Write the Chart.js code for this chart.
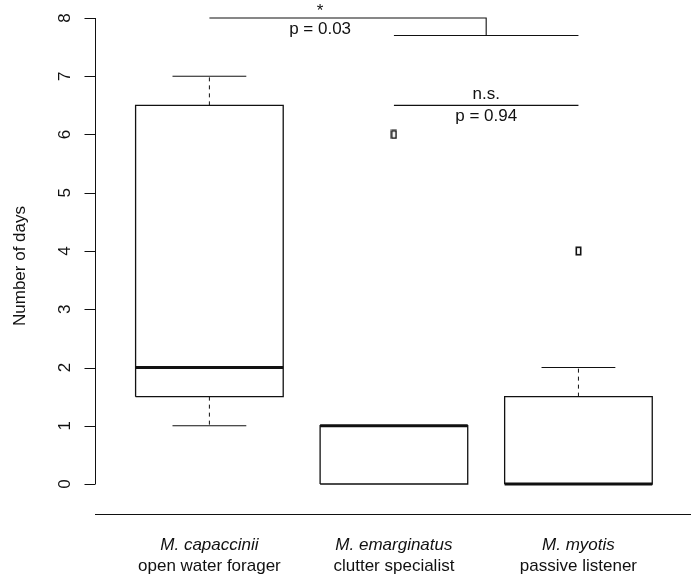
<!DOCTYPE html>
<html>
<head>
<meta charset="utf-8">
<script src="https://cdn.jsdelivr.net/npm/chart.js@4/dist/chart.umd.min.js"></script>
<style>
  body { margin: 0; background: #fff; }
  canvas { display: block; }
</style>
</head>
<body>
<canvas id="boxChart" width="691" height="577"></canvas>
<script>

/* DATA */

const species = ['M. capaccinii', 'M. emarginatus', 'M. myotis'];
const guilds = ['open water forager', 'clutter specialist', 'passive listener'];

const whiskerLow = [1, 0, 0];
const q1 = [1.5, 0, 0];
const medians = [2, 1, 0];
const q3 = [6.5, 1, 1.5];
const whiskerHigh = [7, 1, 2];
const outliers = [[], [6], [4]];

const yTicks = [0, 1, 2, 3, 4, 5, 6, 7, 8];

// comparisons: capaccinii vs the other two, then emarginatus vs myotis
const compLevels = [8, 6.5];
const pooledLevel = 7.7;
const compSig = ['*', 'n.s.'];
const compP = ['p = 0.03', 'p = 0.94'];

/* STYLE */

const ink = '#111';
const font = '"Liberation Sans", Arial, Helvetica, sans-serif';
const boxHalf = 0.4;
const capHalf = 0.2;

// small open rectangle for outliers
const outlierMark = document.createElement('canvas');
outlierMark.width = 7;
outlierMark.height = 10;
(function(){
    const c = outlierMark.getContext('2d');
    c.strokeStyle = ink;
    c.lineWidth = 1.6;
    c.strokeRect(1.3, 1.3, 4.4, 7.4);
})();

function seg(points, width, dash){
    return {
        data: points,
        showLine: true,
        borderColor: ink,
        borderWidth: width,
        borderDash: dash || [],
        pointRadius: 0,
        fill: false,
        tension: 0
    };
}

const datasets = [];

species.forEach((s, i) => {

    const x = i + 1;

    // whiskers
    if (whiskerHigh[i] > q3[i]) {
        datasets.push(seg([{x:x, y:q3[i]}, {x:x, y:whiskerHigh[i]}], 1, [4, 4]));
        datasets.push(seg([{x:x-capHalf, y:whiskerHigh[i]}, {x:x+capHalf, y:whiskerHigh[i]}], 1));
    }
    if (whiskerLow[i] < q1[i]) {
        datasets.push(seg([{x:x, y:q1[i]}, {x:x, y:whiskerLow[i]}], 1, [4, 4]));
        datasets.push(seg([{x:x-capHalf, y:whiskerLow[i]}, {x:x+capHalf, y:whiskerLow[i]}], 1));
    }

    // box
    datasets.push(seg([
        {x:x-boxHalf, y:q1[i]}, {x:x+boxHalf, y:q1[i]},
        {x:x+boxHalf, y:q3[i]}, {x:x-boxHalf, y:q3[i]},
        {x:x-boxHalf, y:q1[i]}
    ], 1.3));

    // median
    datasets.push(seg([{x:x-boxHalf, y:medians[i]}, {x:x+boxHalf, y:medians[i]}], 3.2));

    // outliers
    if (outliers[i].length) {
        datasets.push({
            data: outliers[i].map(v => ({x:x, y:v})),
            showLine: false,
            pointStyle: outlierMark,
            pointRadius: 4
        });
    }

});

/* SIGNIFICANCE BARS */

datasets.push(seg([{x:1, y:compLevels[0]}, {x:2.5, y:compLevels[0]}, {x:2.5, y:pooledLevel}], 1.1));
datasets.push(seg([{x:2, y:pooledLevel}, {x:3, y:pooledLevel}], 1.1));
datasets.push(seg([{x:2, y:compLevels[1]}, {x:3, y:compLevels[1]}], 1.1));

/* AXES AND TEXT */

function inkText(ctx, text, x, yMid){
    const m = ctx.measureText(text);
    const a = m.actualBoundingBoxAscent;
    const d = m.actualBoundingBoxDescent;
    ctx.textAlign = 'center';
    ctx.textBaseline = 'alphabetic';
    ctx.fillText(text, x, yMid + (a - d) / 2);
}

const baseAxes = {
    id: 'baseAxes',
    afterDraw(chart){

        const ctx = chart.ctx;
        const xs = chart.scales.x;
        const ys = chart.scales.y;
        const area = chart.chartArea;

        ctx.save();
        ctx.strokeStyle = ink;
        ctx.fillStyle = ink;
        ctx.lineWidth = 1;

        // y axis
        const ax = area.left + 0.5;
        ctx.beginPath();
        ctx.moveTo(ax, ys.getPixelForValue(yTicks[0]));
        ctx.lineTo(ax, ys.getPixelForValue(yTicks[yTicks.length - 1]));
        yTicks.forEach(t => {
            const py = Math.round(ys.getPixelForValue(t)) + 0.5;
            ctx.moveTo(ax - 11, py);
            ctx.lineTo(ax, py);
        });
        ctx.stroke();

        ctx.font = '17px ' + font;
        yTicks.forEach(t => {
            ctx.save();
            ctx.translate(64, ys.getPixelForValue(t));
            ctx.rotate(-Math.PI / 2);
            inkText(ctx, String(t), 0, 0);
            ctx.restore();
        });

        ctx.save();
        ctx.translate(20, (ys.getPixelForValue(8) + area.bottom) / 2);
        ctx.rotate(-Math.PI / 2);
        inkText(ctx, 'Number of days', 0, 0);
        ctx.restore();

        // x axis line
        ctx.beginPath();
        ctx.moveTo(area.left, area.bottom + 0.5);
        ctx.lineTo(area.right, area.bottom + 0.5);
        ctx.stroke();

        species.forEach((s, i) => {
            const px = xs.getPixelForValue(i + 1);
            ctx.font = 'italic 17px ' + font;
            inkText(ctx, s, px, area.bottom + 31);
            ctx.font = '17px ' + font;
            inkText(ctx, guilds[i], px, area.bottom + 52.5);
        });

        // test labels
        ctx.font = '17px ' + font;
        const l1 = ys.getPixelForValue(compLevels[0]);
        const l2 = ys.getPixelForValue(compLevels[1]);
        inkText(ctx, compSig[0], xs.getPixelForValue(1.6), l1 - 11);
        inkText(ctx, compP[0], xs.getPixelForValue(1.6), l1 + 12);
        inkText(ctx, compSig[1], xs.getPixelForValue(2.5), l2 - 11);
        inkText(ctx, compP[1], xs.getPixelForValue(2.5), l2 + 11);

        ctx.restore();
    }
};

/* CHART */

const boxChart = new Chart(
document.getElementById('boxChart'),{

    type:'scatter',

    data:{ datasets:datasets },

    options:{
        responsive:false,
        animation:false,
        devicePixelRatio:1,
        layout:{ autoPadding:false, padding:{ left:95, right:0, top:0, bottom:63 } },
        plugins:{
            legend:{ display:false },
            tooltip:{ enabled:false }
        },
        scales:{
            x:{ type:'linear', display:false, min:0.38, max:3.61 },
            y:{ type:'linear', display:false, min:-0.515, max:8.309 }
        }
    },

    plugins:[baseAxes]

});

</script>
</body>
</html>
